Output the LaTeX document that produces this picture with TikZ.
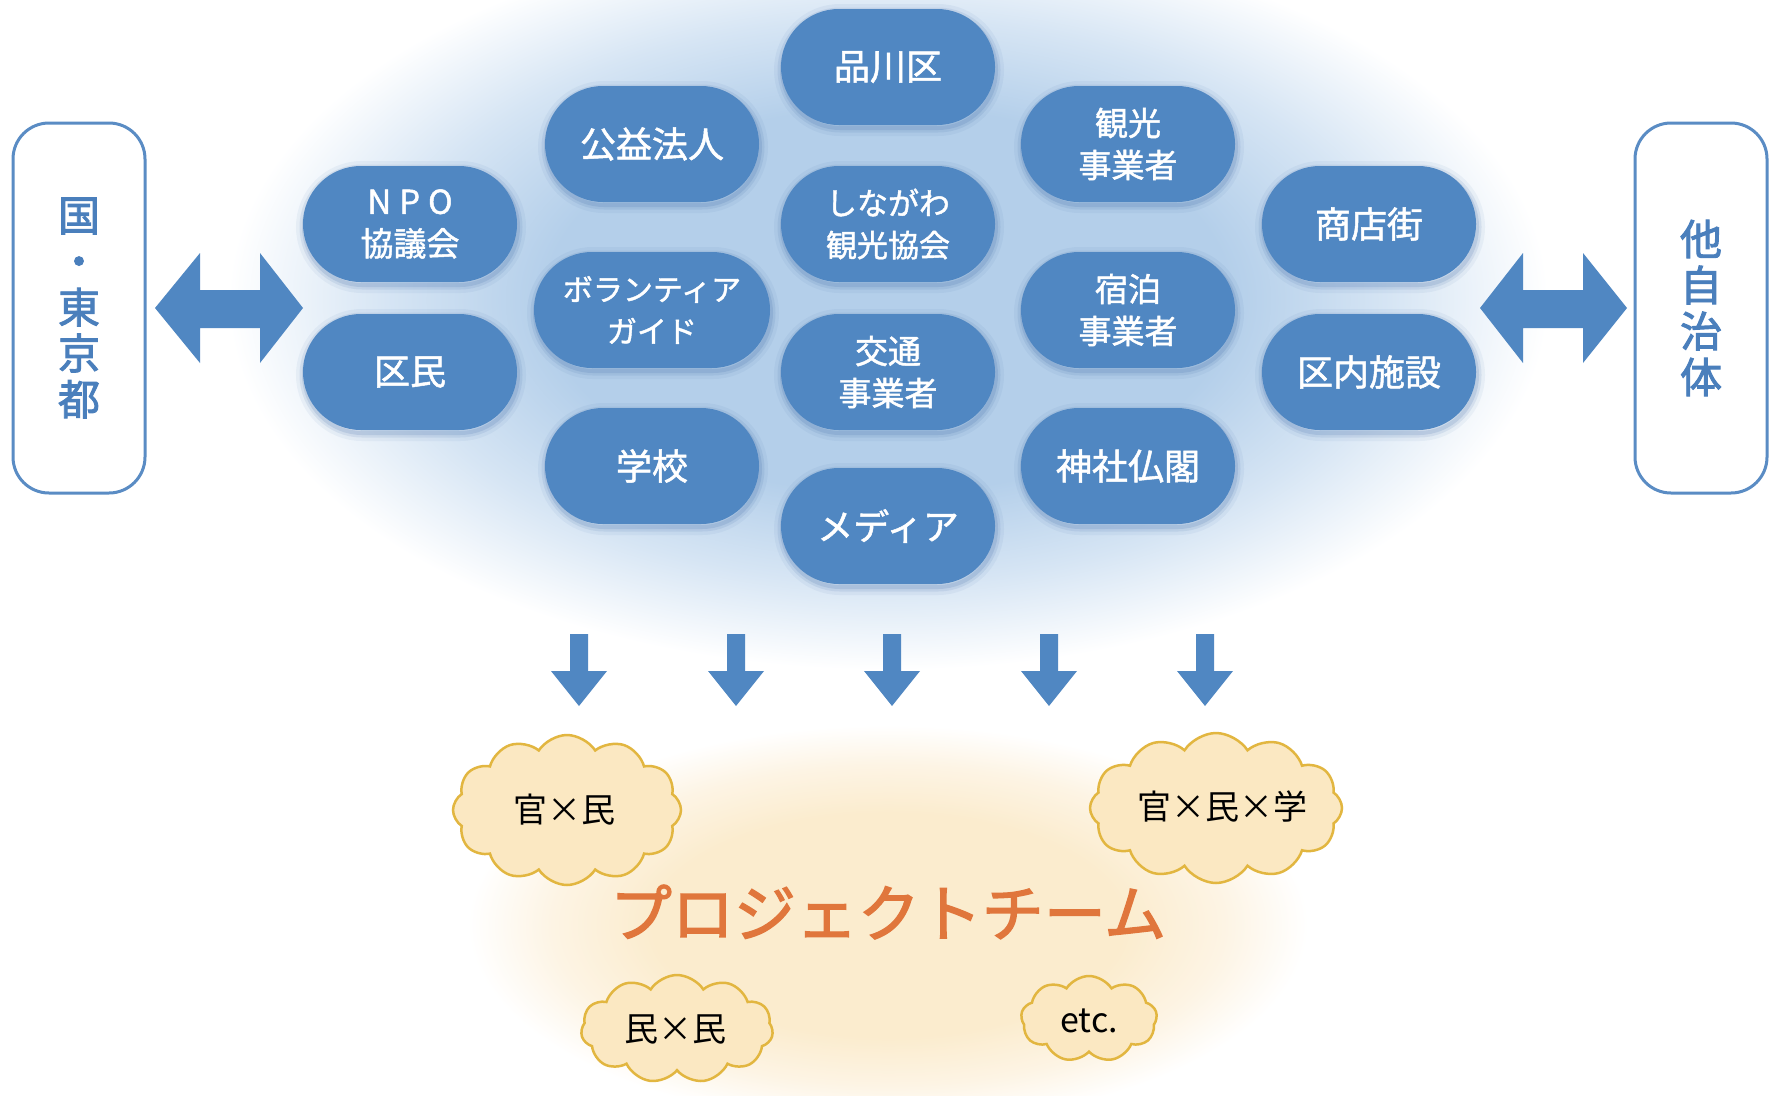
\documentclass[tikz,border=0pt]{standalone}
\usepackage{fontspec}
\setmainfont{Noto Sans CJK JP}
\newfontfamily\medfont[FakeBold=1.4]{Noto Sans CJK JP}
\newfontfamily\heavyfont[FakeBold=2.2]{Noto Sans CJK JP}
\usetikzlibrary{shapes.misc,shapes.symbols}
\definecolor{pillblue}{RGB}{80,135,194}
\definecolor{shadowblue}{RGB}{50,95,160}
\definecolor{boxedge}{RGB}{90,140,196}
\definecolor{boxtext}{RGB}{74,127,188}
\definecolor{glowblue}{RGB}{180,207,234}
\definecolor{glowmid}{RGB}{214,229,244}
\definecolor{glowor}{RGB}{251,236,206}
\definecolor{glowormid}{RGB}{253,244,228}
\definecolor{projorange}{RGB}{224,118,60}
\definecolor{cloudfill}{RGB}{251,232,194}
\definecolor{cloudedge}{RGB}{226,182,64}
\pgfdeclareradialshading{blueglow}{\pgfpoint{0bp}{0bp}}{color(0bp)=(glowblue); color(13bp)=(glowblue); color(19bp)=(glowmid); color(25bp)=(white); color(50bp)=(white)}
\pgfdeclareradialshading{orangeglow}{\pgfpoint{0bp}{0bp}}{color(0bp)=(glowor); color(14bp)=(glowor); color(20bp)=(glowormid); color(25bp)=(white); color(50bp)=(white)}
\begin{document}
\begin{tikzpicture}[x=1pt,y=-1pt,
  pill/.style={rounded rectangle, fill=pillblue, text=white, minimum width=214pt,
    minimum height=116pt, inner sep=0pt, align=center,
    font=\medfont\fontsize{36}{42}\selectfont,
    preaction={draw=shadowblue, draw opacity=0.06, line width=16pt, transform canvas={xshift=1pt,yshift=-3pt}},
    preaction={draw=shadowblue, draw opacity=0.10, line width=9pt, transform canvas={xshift=1pt,yshift=-3pt}},
    preaction={draw=shadowblue, draw opacity=0.14, line width=4pt, transform canvas={xshift=1pt,yshift=-3pt}}},
  twoline/.style={font=\medfont\fontsize{33}{42}\selectfont},
  sidebox/.style={draw=boxedge, line width=3pt, fill=white, rounded corners=36pt,
    minimum width=132pt, minimum height=370pt, inner sep=0pt, align=center,
    text=boxtext, font=\heavyfont\fontsize{42}{46}\selectfont},
  cloudbox/.style={cloud, cloud puffs=12, cloud puff arc=115, cloud ignores aspect,
    draw=cloudedge, fill=cloudfill, line width=2.5pt, inner sep=0pt},
  cloudtext/.style={text=black, inner sep=0pt, font=\fontsize{34}{40}\selectfont},
  blockarrow/.style={fill=pillblue}
]
\useasboundingbox (0,0) rectangle (1769,1095);
\fill[white] (0,0) rectangle (1769,1095);
\begin{scope}
\clip (0,0) rectangle (1769,1095);
\shade[shading=blueglow] (888,300) ellipse [x radius=660pt, y radius=370pt];
\shade[shading=orangeglow] (888,925) ellipse [x radius=420pt, y radius=200pt];
\end{scope}

% pills
\node[pill] (shinagawa) at (888,67) {品川区};
\node[pill] (koeki) at (652,144) {公益法人};
\node[pill, twoline] (kanko) at (1128,144) {観光\\事業者};
\node[pill, twoline] (npo) at (410,224) {N\hspace{8pt}P\hspace{8pt}O\\協議会};
\node[pill, font=\medfont\fontsize{31}{42}\selectfont] (kyokai) at (888,224) {しながわ\\観光協会};
\node[pill] (shotengai) at (1369,224) {商店街};
\node[pill, minimum width=236pt, font=\medfont\fontsize{30}{42}\selectfont] (volunteer) at (652,310) {ボランティア\\ガイド};
\node[pill, twoline] (shukuhaku) at (1128,310) {宿泊\\事業者};
\node[pill] (kumin) at (410,372) {区民};
\node[pill, twoline] (kotsu) at (888,372) {交通\\事業者};
\node[pill] (shisetsu) at (1369,372) {区内施設};
\node[pill] (gakko) at (652,466) {学校};
\node[pill] (jinja) at (1128,466) {神社仏閣};
\node[pill] (media) at (888,526) {メディア};

% side boxes
\node[sidebox] (kuni) at (79,308) {国\\・\\東\\京\\都};
\node[sidebox] (tajichitai) at (1701,308) {他\\自\\治\\体};

% double arrows
\fill[blockarrow] (155,308) -- (200,253) -- (200,290) -- (260,290) -- (260,253) -- (303,308)
  -- (260,363) -- (260,328) -- (200,328) -- (200,363) -- cycle;
\fill[blockarrow] (1480,308) -- (1523,253) -- (1523,290) -- (1583,290) -- (1583,253) -- (1627,308)
  -- (1583,363) -- (1583,328) -- (1523,328) -- (1523,363) -- cycle;

% down arrows
\foreach \ax in {579,736,892,1049,1205}{
  \fill[blockarrow] ({\ax-9},634) -- ({\ax+9},634) -- ({\ax+9},671) -- ({\ax+28},671)
    -- (\ax,706) -- ({\ax-28},671) -- ({\ax-9},671) -- cycle;
}

% clouds
\node[cloudbox, minimum width=228pt, minimum height=150pt] (kanmin) at (567,810) {};
\node[cloudtext] (kanmint) at (564,810) {官×民};
\node[cloudbox, minimum width=252pt, minimum height=150pt] (kanmingaku) at (1216,808) {};
\node[cloudtext] (kanmingakut) at (1222,807) {官×民×学};
\node[cloudbox, cloud puffs=11, minimum width=192pt, minimum height=108pt] (minmin) at (677,1029) {};
\node[cloudtext] (minmint) at (675,1029) {民×民};
\node[cloudbox, cloud puffs=9, minimum width=136pt, minimum height=86pt] (etc) at (1089,1019) {};
\node[cloudtext] (etct) at (1089,1021) {etc.};

% project team
\node[text=projorange, font=\heavyfont\fontsize{62}{62}\selectfont] (proj) at (888,912) {プロジェクトチーム};
\end{tikzpicture}
\end{document}
